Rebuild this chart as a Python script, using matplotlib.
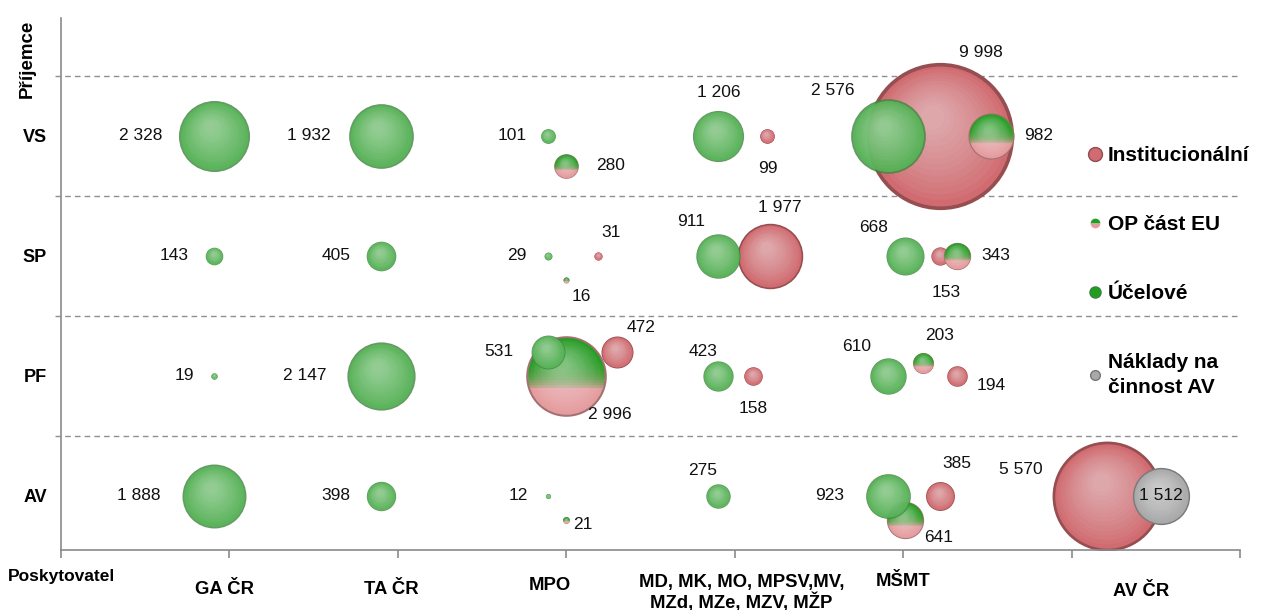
import numpy as np
import matplotlib
matplotlib.use("Agg")
import matplotlib.pyplot as plt
from matplotlib.path import Path
from matplotlib.colors import to_rgb
from matplotlib.lines import Line2D
from matplotlib.transforms import offset_copy

plt.rcParams["font.family"] = ["Liberation Sans", "DejaVu Sans"]

# Poskytovatel (x) a příjemce (řádky)
providers = ["GA ČR", "TA ČR", "MPO", "MD, MK, MO, MPSV,MV,\nMZd, MZe, MZV, MŽP", "MŠMT", "AV ČR"]
recipients = ["AV", "PF", "SP", "VS"]
recipient_y = [0.5, 1.5, 2.5, 3.5]

# Institucionální
inst_x = [3.19, 3.30, 4.19, 4.21, 4.11, 5.22, 5.22, 5.32, 5.22, 6.21]
inst_y = [2.5, 1.7, 3.5, 2.5, 1.5, 3.5, 2.5, 1.5, 0.5, 0.5]
inst_v = [31, 472, 99, 1977, 158, 9998, 153, 194, 385, 5570]

# OP část EU
op_x = [3.0, 3.0, 3.0, 3.0, 5.52, 5.32, 5.12, 5.01]
op_y = [3.25, 2.3, 1.5, 0.3, 3.5, 2.5, 1.61, 0.3]
op_v = [280, 16, 2996, 21, 982, 343, 203, 641]

# Účelové
uc_x = [0.91, 0.91, 0.91, 0.91, 1.90, 1.90, 1.90, 1.90, 2.89, 2.89, 2.89, 2.89,
        3.90, 3.90, 3.90, 3.90, 4.91, 5.01, 4.91, 4.91]
uc_y = [3.5, 2.5, 1.5, 0.5, 3.5, 2.5, 1.5, 0.5, 3.5, 2.5, 1.7, 0.5,
        3.5, 2.5, 1.5, 0.5, 3.5, 2.5, 1.5, 0.5]
uc_v = [2328, 143, 19, 1888, 1932, 405, 2147, 398, 101, 29, 531, 12,
        1206, 911, 423, 275, 2576, 668, 610, 923]

# Náklady na činnost AV
nak_x = [6.53]
nak_y = [0.5]
nak_v = [1512]

# posuny popisků (px)
inst_off = [(13, 23), (24, 24), (1, -33), (10, 48), (0, -33), (41, 83), (6, -37), (34, -10), (17, 32), (-86, 26)]
op_off = [(44, 0), (15, -17), (44, -39), (17, -5), (48, 0), (39, 0), (16, 27), (34, -18)]
uc_off = [(-74, 0), (-40, 0), (-30, 0), (-76, 0), (-72, 0), (-45, 0), (-76, 0), (-45, 0),
          (-36, 0), (-31, 0), (-49, 0), (-29, 0), (1, 43), (-27, 34), (-15, 24), (-15, 25),
          (-55, 45), (-31, 28), (-31, 29), (-58, 0)]
nak_off = [(0, 0)]

prov_x = [0.97, 1.96, 2.90, 4.04, 5.0, 6.41]
prov_dy = [40, 40, 35, 43, 32, 42]

RED = "#d06c71"
GREEN = "#5aba5a"
OPGREEN = "#1f9f1f"
OPPINK = "#e49c9e"
GREY = "#a9a9a9"
SCALE = 1.06  # průměr bubliny v bodech na odmocninu hodnoty

fig = plt.figure(figsize=(12.68, 6.10), dpi=100)
ax = fig.add_axes([61 / 1268, 1 - 550 / 610, (1240 - 61) / 1268, (550 - 18) / 610])
ax.set_xlim(0, 7)
ax.set_ylim(0.05, 4.48)


def shade(c, f):
    c = np.array(to_rgb(c))
    return tuple(c + (1 - c) * f) if f > 0 else tuple(c * (1 + f))


def cap(h):
    a0 = np.arcsin(h)
    t = np.linspace(a0, np.pi - a0, 40)
    verts = np.column_stack([np.cos(t), np.sin(t)])
    verts = np.vstack([verts, verts[:1]])
    return Path(verts, closed=True)


def ball(x, y, ms, color, z, alpha=1.0, top=None):
    ax.plot(x, y, "o", ms=ms, mfc=shade(color, -0.28), mec="none", alpha=alpha, zorder=z)
    ax.plot(x, y, "o", ms=ms * 0.95, mfc=color, mec="none", alpha=alpha, zorder=z)
    if top is not None:
        for h in np.linspace(0.35, -0.3, 10):
            ax.plot(x, y, marker=cap(h), ls="", ms=ms * 0.95, mfc=top, mec="none",
                    alpha=0.25 * alpha, zorder=z)
    n = 14
    for i in range(1, n):
        t = i / n
        tr = offset_copy(ax.transData, fig=fig, x=-0.06 * ms * t, y=0.14 * ms * t, units="points")
        ax.plot(x, y, "o", ms=ms * (0.95 - 0.85 * t), mfc="white", mec="none",
                alpha=0.045 * alpha, zorder=z, transform=tr)


def series(xs, ys, vs, offs, color, z, alpha=1.0, top=None):
    for x, y, v, (dx, dy) in zip(xs, ys, vs, offs):
        ball(x, y, SCALE * np.sqrt(v), color, z, alpha, top)
        ax.annotate(f"{v:,}".replace(",", " "), (x, y), xytext=(dx, dy),
                    textcoords="offset pixels", ha="center", va="center",
                    fontsize=12.5, color="#111111", zorder=20)


series(inst_x, inst_y, inst_v, inst_off, RED, 2)
series(op_x, op_y, op_v, op_off, OPPINK, 3, top=OPGREEN)
series(uc_x, uc_y, uc_v, uc_off, GREEN, 4, alpha=0.82)
series(nak_x, nak_y, nak_v, nak_off, GREY, 5)

for g in [1, 2, 3, 4]:
    ax.axhline(g, xmin=-0.005, color="#8f8f8f", lw=1, ls=(0, (4, 3)), zorder=1, clip_on=False)

for s in ["top", "right"]:
    ax.spines[s].set_visible(False)
for s in ["left", "bottom"]:
    ax.spines[s].set_color("#8a8a8a")
    ax.spines[s].set_linewidth(1.2)

ax.set_xticks(range(0, 8))
ax.set_xticklabels([])
ax.tick_params(axis="x", direction="out", length=6, color="#8a8a8a", width=1.2)
ax.set_yticks([])
ax.set_yticks(recipient_y, minor=True)
ax.set_yticklabels(recipients, minor=True, fontweight="bold", fontsize=13)
ax.tick_params(axis="y", which="minor", length=0, pad=10)

for name, px, dy in zip(providers, prov_x, prov_dy):
    ax.annotate(name, (px, 0), xycoords=("data", "axes fraction"), xytext=(0, -dy),
                textcoords="offset pixels", ha="center", va="center",
                fontweight="bold", fontsize=13.3, linespacing=1.05, annotation_clip=False)

fig.text(27 / 1268, 1 - 59 / 610, "Příjemce", rotation=90, ha="center", va="center",
         fontweight="bold", fontsize=13.5)
fig.text(8 / 1268, 1 - 576 / 610, "Poskytovatel", ha="left", va="center",
         fontweight="bold", fontsize=12.5)

handles = [
    Line2D([], [], ls="", marker="o", ms=10, mfc=RED, mec=shade(RED, -0.3)),
    Line2D([], [], ls="", marker="o", ms=7, mfc=OPGREEN, mfcalt=OPPINK, fillstyle="top", mec="none"),
    Line2D([], [], ls="", marker="o", ms=8, mfc=OPGREEN, mec=shade(GREEN, -0.3)),
    Line2D([], [], ls="", marker="o", ms=7, mfc=GREY, mec=shade(GREY, -0.3)),
]
labels = ["Institucionální", "OP část EU", "Účelové", "Náklady na\nčinnost AV"]
leg = fig.legend(handles, labels, loc="upper left", bbox_to_anchor=(1089 / 1268, 1 - 146 / 610),
                 frameon=False, labelspacing=2.4, handlelength=0.6,
                 handletextpad=0.3, borderpad=0, borderaxespad=0,
                 prop={"size": 15, "weight": "bold"})
for t in leg.get_texts():
    t.set_linespacing(1.4)

fig.savefig("out.png", dpi=100)
